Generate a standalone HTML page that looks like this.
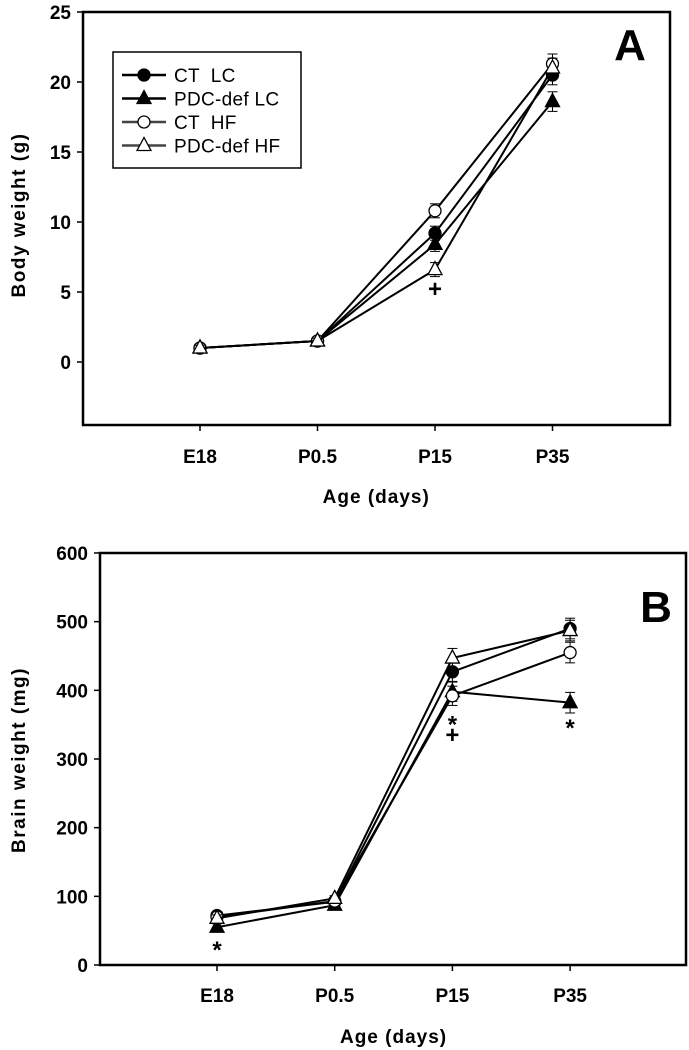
<!DOCTYPE html>
<html><head><meta charset="utf-8"><style>
html,body{margin:0;padding:0;background:#fff;}
svg{display:block;font-family:"Liberation Sans",Arial,sans-serif;}
.tk{font-weight:bold;font-size:19px;}
.ti{font-weight:bold;font-size:19px;}
</style></head><body>
<svg id="chart" width="689" height="1050" viewBox="0 0 689 1050"></svg>
<script>
const categories=["E18","P0.5","P15","P35"];
const seriesNames=["CT  LC","PDC-def LC","CT  HF","PDC-def HF"];
const bodyCTLC=[1.0,1.5,9.2,20.5];
const bodyPDCLC=[1.0,1.5,8.4,18.6];
const bodyCTHF=[1.0,1.5,10.8,21.3];
const bodyPDCHF=[1.0,1.5,6.6,21.0];
const bodyErr=[0.2,0.2,0.5,0.7];
const bodyTicks=[0,5,10,15,20,25];
const brainCTLC=[72,92,427,490];
const brainPDCLC=[55,87,398,382];
const brainCTHF=[70,93,392,455];
const brainPDCHF=[68,97,447,487];
const brainErr=[5,4,14,15];
const brainTicks=[0,100,200,300,400,500,600];

const NS="http://www.w3.org/2000/svg";
const svg=document.getElementById('chart');
function el(tag,attrs,parent){const e=document.createElementNS(NS,tag);for(const k in attrs)e.setAttribute(k,attrs[k]);(parent||svg).appendChild(e);return e;}

function panel(cfg){
  const g=el('g',{});
  
  
  const xS=i=>cfg.x0+i*cfg.dx;
  const yS=v=>cfg.yZero-(v*cfg.pxPer);
  const frame=el('rect',{x:cfg.left,y:cfg.top,width:cfg.right-cfg.left,height:cfg.bottom-cfg.top,fill:'none',stroke:'#000','stroke-width':2.5},g);
  
  
  cfg.ticks.forEach(t=>{
    const y=yS(t);
    el('line',{x1:cfg.left-6,x2:cfg.left,y1:y,y2:y,stroke:'#000','stroke-width':1.5},g);
    const tx=el('text',{x:cfg.left-12,y:y+7,'text-anchor':'end',class:'tk'},g);
    tx.textContent=t;
    
    
  });
  categories.forEach((c,i)=>{
    const x=xS(i);
    el('line',{x1:x,x2:x,y1:cfg.bottom,y2:cfg.bottom+6,stroke:'#000','stroke-width':1.5},g);
    const tx=el('text',{x:x,y:cfg.labelY,'text-anchor':'middle',class:'tk'},g);
    tx.textContent=c;
    
    
  });
  const xt=el('text',{x:(cfg.x0+cfg.x0+3*cfg.dx)/2,y:cfg.titleY,'text-anchor':'middle',class:'ti','letter-spacing':'1'},g);
  xt.textContent='Age (days)';
  
  
  const yt=el('text',{x:0,y:0,'text-anchor':'middle',class:'ti','letter-spacing':'1.5',transform:`translate(25,${cfg.yTitleY}) rotate(-90)`},g);
  yt.textContent=cfg.yTitle;
  
  
  const pl=el('text',{x:cfg.letterX,y:cfg.letterY,'font-size':'44','font-weight':'bold','text-anchor':'middle'},g);
  pl.textContent=cfg.letter;
  
  
  const styles=[{fill:'#000',shape:'c'},{fill:'#000',shape:'t'},{fill:'#fff',shape:'c'},{fill:'#fff',shape:'t'}];
  cfg.series.forEach((vals,s)=>{
    const sg=el('g',{},g);
    
    
    el('polyline',{points:vals.map((v,i)=>xS(i)+','+yS(v)).join(' '),fill:'none',stroke:'#000','stroke-width':2},sg);
    vals.forEach((v,i)=>{
      const x=xS(i),y=yS(v),e=cfg.err[i]*cfg.pxPer;
      if(e>2){el('line',{x1:x,x2:x,y1:y-e,y2:y+e,stroke:'#000','stroke-width':1},sg);
        el('line',{x1:x-5,x2:x+5,y1:y-e,y2:y-e,stroke:'#000','stroke-width':1},sg);
        el('line',{x1:x-5,x2:x+5,y1:y+e,y2:y+e,stroke:'#000','stroke-width':1},sg);}
      let m;
      if(styles[s].shape==='c') m=el('circle',{cx:x,cy:y,r:6,fill:styles[s].fill,stroke:'#000','stroke-width':1.3},sg);
      else m=el('polygon',{points:`${x},${y-8} ${x-7},${y+5} ${x+7},${y+5}`,fill:styles[s].fill,stroke:'#000','stroke-width':1.3},sg);
      
      
    });
  });
  cfg.marks.forEach(mk=>{
    const t=el('text',{x:xS(mk[0]),y:yS(mk[1])+8,'text-anchor':'middle','font-size':'24','font-weight':'bold'},g);
    t.textContent=mk[2];
    
    
  });
  return g;
}

panel({name:'panel-a-body-weight',left:83,right:670,top:12,bottom:425,x0:200,dx:117.5,yZero:362,pxPer:14,
  ticks:bodyTicks,labelY:463,titleY:503,yTitle:'Body weight (g)',yTitleY:215,letter:'A',letterX:630,letterY:60,
  series:[bodyCTLC,bodyPDCLC,bodyCTHF,bodyPDCHF],err:bodyErr,marks:[[2,5.2,'+']]});
panel({name:'panel-b-brain-weight',left:100,right:686,top:553,bottom:965,x0:217,dx:117.7,yZero:965,pxPer:0.6867,
  ticks:brainTicks,labelY:1002,titleY:1043,yTitle:'Brain weight (mg)',yTitleY:760,letter:'B',letterX:656,letterY:622,
  series:[brainCTLC,brainPDCLC,brainCTHF,brainPDCHF],err:brainErr,marks:[[0,22,'*'],[2,350,'*'],[2,335,'+'],[3,345,'*']]});

const lg=el('g',{});


el('rect',{x:113,y:52,width:188,height:116,fill:'#fff',stroke:'#000','stroke-width':1.5},lg);
const lfill=['#000','#000','#fff','#fff'],lshape=['c','t','c','t'],lstroke=['#000','#000','#444','#444'];
seriesNames.forEach((n,i)=>{
  const y=75+i*23.5;
  const eg=el('g',{},lg);
  
  
  el('line',{x1:122,x2:166,y1:y,y2:y,stroke:lstroke[i],'stroke-width':2.5},eg);
  if(lshape[i]==='c') el('circle',{cx:144,cy:y,r:6,fill:lfill[i],stroke:'#000','stroke-width':1.3},eg);
  else el('polygon',{points:`144,${y-8} 137,${y+5} 151,${y+5}`,fill:lfill[i],stroke:'#000','stroke-width':1.3},eg);
  const t=el('text',{x:174,y:y+7,'font-size':'19','letter-spacing':'0.3'},eg);
  t.style.whiteSpace='pre';
  t.textContent=n;
});
</script>
</body></html>
